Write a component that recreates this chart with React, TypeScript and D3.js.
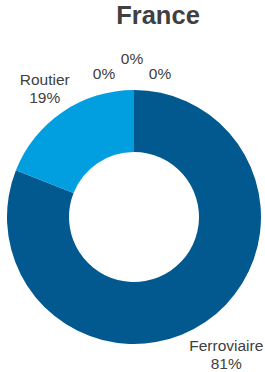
import React, { useEffect, useRef } from "react";
import * as d3 from "d3";

// transport mode share, France
const categories = ["Ferroviaire", "Routier", "Fluvial", "Maritime", "Aérien"];
const values = [81, 19, 0, 0, 0];
const colors = ["#02598f", "#029fe0", "#7f7f7f", "#a5a5a5", "#c8c8c8"];
const title = "France";

// label nudges (Excel spreads the overlapping labels)
const labelNudge = [
  [4, 8],
  [-1, 1],
  [-30, 13],
  [-2, -1.5],
  [26, 13],
];

const App = () => {
  const ref = useRef(null);

  useEffect(() => {
    const width = 265;
    const height = 372;
    const cx = 134;
    const cy = 217;
    const outerRadius = 127;
    const innerRadius = 65;
    const labelRadius = 157;

    const svg = d3.select(ref.current).attr("width", width).attr("height", height);
    svg.selectAll("*").remove();

    svg.append("text")
      .attr("x", 158)
      .attr("y", 24)
      .attr("text-anchor", "middle")
      .style("font-family", "'Liberation Sans', Arial, sans-serif")
      .style("font-size", "25.5px")
      .style("font-weight", "bold")
      .style("fill", "#404040")
      .text(title);

    const data = categories.map((c, i) => ({ name: c, value: values[i], index: i }));

    const pie = d3.pie().value((d) => d.value).sort(null);
    const arcs = pie(data);

    const arc = d3.arc().innerRadius(innerRadius).outerRadius(outerRadius);
    const labelArc = d3.arc().innerRadius(labelRadius).outerRadius(labelRadius);

    const g = svg.append("g").attr("transform", `translate(${cx},${cy})`);

    g.append("g")
      .selectAll("path")
      .data(arcs.filter((d) => d.data.value > 0))
      .enter()
      .append("path")
      .attr("d", arc)
      .style("fill", (d) => colors[d.data.index]);

    const labels = g.append("g")
      .selectAll("text")
      .data(arcs)
      .enter()
      .append("text")
      .attr("transform", (d) => {
        const [x, y] = labelArc.centroid(d);
        const n = labelNudge[d.data.index];
        return `translate(${x + n[0]},${y + n[1]})`;
      })
      .attr("text-anchor", "middle")
      .style("font-family", "'Liberation Sans', Arial, sans-serif")
      .style("font-size", "15.5px")
      .style("fill", "#404040");

    labels.each(function (d) {
      const t = d3.select(this);
      const pct = `${d.data.value}%`;
      if (d.data.value > 0) {
        t.append("tspan").attr("x", 0).attr("y", -3.5).text(d.data.name);
        t.append("tspan").attr("x", 0).attr("y", 14.5).text(pct);
      } else {
        t.append("tspan").attr("x", 0).attr("y", 5.5).text(pct);
      }
    });
  }, []);

  return <svg ref={ref} style={{ position: "absolute", left: 0, top: 0 }}></svg>;
};

export default App;
